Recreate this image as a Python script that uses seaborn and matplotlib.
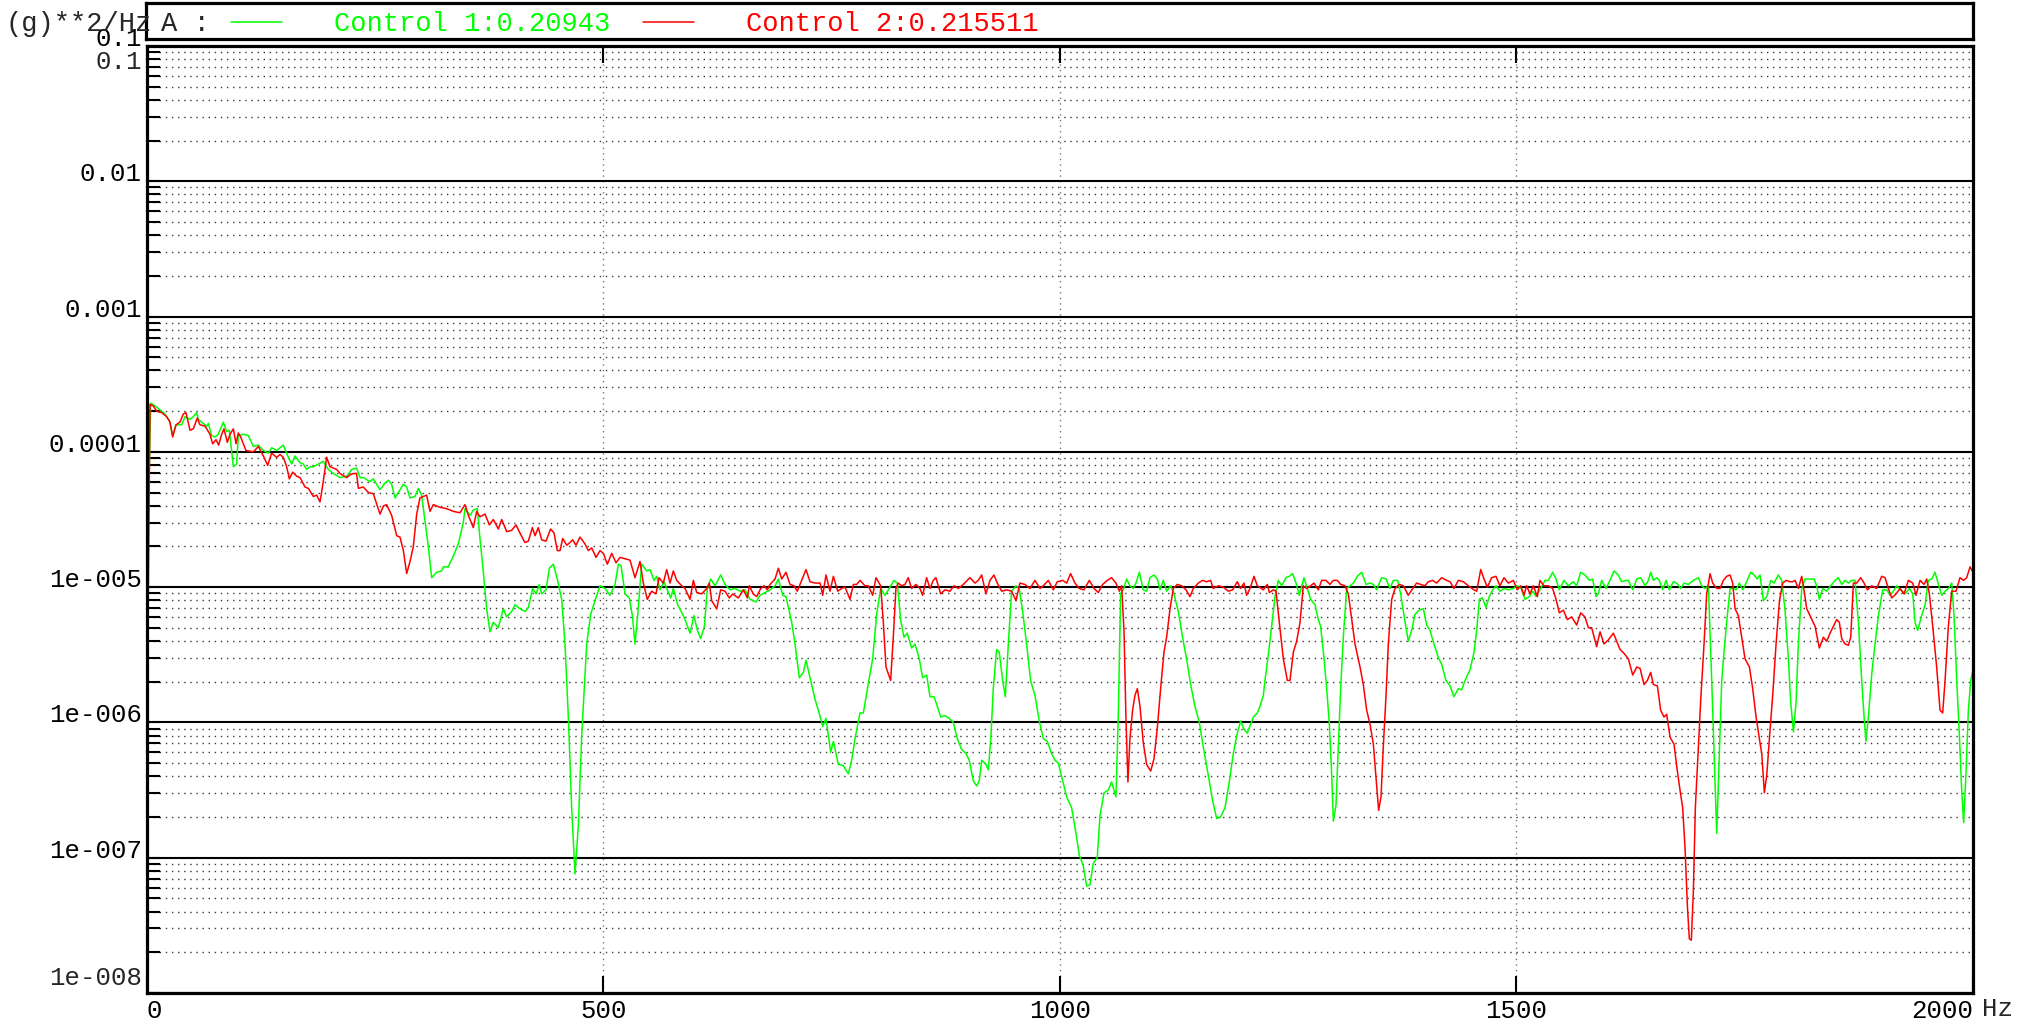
import numpy as np
import matplotlib
matplotlib.use("Agg")
import matplotlib.pyplot as plt
import matplotlib.ticker as mticker
import seaborn as sns

# PSD readings, log10(g**2/Hz) against frequency (Hz)
green_freq = [
    0.0, 4.0, 8.8, 14.2, 19.7, 24.5, 28.1, 31.8, 38.0, 41.6,
    47.1, 50.7, 54.4, 56.2, 59.9, 65.4, 67.2, 70.8, 74.5, 78.1,
    83.6, 87.3, 90.2, 94.6, 98.2, 100.0, 105.5, 111.0, 116.5, 122.0,
    127.4, 132.9, 136.5, 142.0, 149.3, 154.8, 158.5, 162.1, 167.6, 171.2,
    174.9, 178.5, 182.2, 187.7, 193.1, 198.6, 204.1, 211.4, 218.7, 224.2,
    229.6, 233.3, 236.9, 244.2, 247.9, 255.2, 260.7, 264.3, 268.0, 271.6,
    275.3, 280.8, 284.4, 288.1, 293.5, 297.2, 300.8, 304.5, 308.1, 311.8,
    317.3, 322.8, 324.6, 330.0, 335.5, 341.0, 346.5, 348.3, 353.8, 357.4,
    361.8, 364.7, 368.4, 372.0, 375.7, 379.3, 384.8, 390.3, 393.9, 399.4,
    403.1, 408.5, 414.0, 417.7, 422.4, 426.1, 429.7, 432.3, 437.0, 440.7,
    445.1, 449.4, 454.2, 457.8, 461.5, 465.1, 468.8, 472.4, 476.1, 481.6,
    486.0, 490.7, 496.2, 501.7, 507.1, 512.6, 516.3, 519.2, 523.6, 528.3,
    531.6, 534.5, 537.4, 541.8, 547.3, 550.9, 555.3, 558.2, 561.9, 566.3,
    569.2, 573.6, 576.5, 581.2, 586.7, 590.4, 594.8, 599.1, 602.8, 606.4,
    610.5, 613.7, 617.4, 622.1, 628.3, 633.1, 638.6, 644.0, 649.5, 655.0,
    660.5, 667.0, 671.4, 676.9, 682.4, 687.9, 691.5, 696.3, 699.9, 706.1,
    709.8, 714.5, 718.9, 721.8, 726.2, 731.7, 735.3, 740.1, 743.7, 748.8,
    751.8, 757.2, 762.7, 768.2, 771.8, 775.5, 780.9, 784.6, 790.1, 794.8,
    799.2, 803.6, 808.3, 812.0, 818.1, 821.8, 825.4, 829.1, 832.7, 837.5,
    841.1, 845.9, 849.5, 853.9, 857.6, 862.0, 865.6, 869.3, 874.0, 878.7,
    883.1, 887.5, 892.3, 897.0, 900.6, 905.0, 908.7, 911.6, 914.2, 918.9,
    921.5, 924.4, 926.9, 930.6, 933.5, 937.2, 940.1, 943.4, 947.0, 951.8,
    955.4, 959.1, 963.4, 967.8, 972.6, 977.3, 981.7, 986.1, 990.8, 994.5,
    998.1, 1002.9, 1007.3, 1012.7, 1017.5, 1021.1, 1025.5, 1029.2, 1032.8, 1036.5,
    1040.8, 1043.8, 1048.2, 1052.9, 1056.5, 1061.3, 1063.8, 1066.4, 1069.3, 1073.0,
    1076.6, 1080.3, 1083.2, 1086.9, 1091.2, 1094.9, 1098.5, 1102.9, 1106.6, 1109.5,
    1113.1, 1116.8, 1121.2, 1124.8, 1129.6, 1135.0, 1139.4, 1143.1, 1147.8, 1152.6,
    1156.9, 1162.4, 1167.2, 1171.6, 1175.9, 1180.7, 1185.4, 1189.8, 1193.5, 1197.8,
    1201.5, 1205.1, 1211.8, 1216.1, 1219.1, 1222.7, 1224.5, 1228.2, 1231.8, 1235.5,
    1239.1, 1242.8, 1247.5, 1251.2, 1254.8, 1258.5, 1262.1, 1267.2, 1270.9, 1274.5,
    1279.3, 1282.9, 1285.5, 1289.2, 1292.1, 1295.0, 1297.6, 1299.4, 1302.3, 1304.9,
    1307.4, 1310.3, 1314.0, 1317.6, 1321.3, 1325.7, 1330.4, 1335.2, 1339.5, 1343.2,
    1346.8, 1352.3, 1357.1, 1361.4, 1365.1, 1369.8, 1373.1, 1376.8, 1381.5, 1385.2,
    1388.8, 1393.6, 1398.0, 1401.6, 1405.3, 1409.6, 1414.4, 1418.0, 1422.8, 1427.2,
    1431.5, 1436.3, 1439.9, 1443.6, 1449.1, 1453.5, 1456.4, 1459.3, 1462.6, 1466.6,
    1470.2, 1473.9, 1477.5, 1481.9, 1486.3, 1491.1, 1496.5, 1500.2, 1504.6, 1509.3,
    1514.1, 1517.7, 1521.4, 1525.7, 1531.2, 1534.9, 1539.6, 1543.3, 1546.9, 1552.0,
    1556.8, 1562.2, 1565.9, 1570.3, 1575.0, 1579.8, 1583.4, 1587.1, 1589.6, 1593.3,
    1598.0, 1602.4, 1606.8, 1611.5, 1615.2, 1619.9, 1622.5, 1627.3, 1631.7, 1636.0,
    1640.8, 1644.4, 1647.0, 1649.9, 1653.6, 1656.5, 1660.1, 1663.8, 1667.4, 1671.8,
    1675.5, 1679.8, 1683.5, 1688.2, 1693.7, 1699.2, 1702.9, 1706.5, 1710.2, 1713.8,
    1716.4, 1719.3, 1722.2, 1724.8, 1727.3, 1730.2, 1733.9, 1737.5, 1740.5, 1744.1,
    1747.8, 1752.1, 1756.5, 1760.2, 1763.8, 1766.7, 1770.4, 1774.0, 1778.4, 1782.1,
    1786.8, 1790.5, 1794.1, 1797.8, 1800.3, 1803.3, 1806.2, 1808.7, 1812.4, 1816.0,
    1821.5, 1825.9, 1828.8, 1831.7, 1835.4, 1839.8, 1844.1, 1848.9, 1852.5, 1856.2,
    1859.8, 1863.5, 1867.1, 1870.8, 1874.5, 1878.1, 1880.7, 1882.8, 1885.4, 1889.1,
    1892.7, 1896.4, 1901.1, 1905.5, 1909.1, 1912.8, 1916.4, 1920.8, 1925.6, 1930.3,
    1934.0, 1936.5, 1939.4, 1943.8, 1947.5, 1951.1, 1954.8, 1958.4, 1962.1, 1965.7,
    1969.4, 1973.0, 1976.7, 1979.2, 1982.2, 1985.1, 1987.6, 1989.8, 1992.4, 1994.9,
    1997.5, 2000.0,
]
green_log = [
    -4.90, -3.64, -3.66, -3.69, -3.72, -3.77, -3.88, -3.80, -3.80, -3.74,
    -3.76, -3.74, -3.71, -3.76, -3.78, -3.81, -3.79, -3.88, -3.89, -3.87,
    -3.78, -3.85, -3.84, -4.11, -4.09, -3.88, -3.87, -3.88, -3.96, -3.95,
    -3.99, -4.01, -3.97, -3.99, -3.95, -4.04, -4.09, -4.03, -4.08, -4.09,
    -4.13, -4.11, -4.11, -4.09, -4.07, -4.13, -4.16, -4.19, -4.18, -4.13,
    -4.12, -4.19, -4.19, -4.22, -4.20, -4.28, -4.23, -4.21, -4.24, -4.34,
    -4.30, -4.24, -4.26, -4.34, -4.33, -4.27, -4.32, -4.51, -4.70, -4.93,
    -4.89, -4.88, -4.85, -4.85, -4.77, -4.68, -4.52, -4.42, -4.47, -4.43,
    -4.42, -4.64, -4.89, -5.16, -5.33, -5.26, -5.30, -5.16, -5.22, -5.18,
    -5.13, -5.16, -5.18, -5.15, -5.01, -5.05, -4.98, -5.05, -5.02, -4.86,
    -4.83, -4.94, -5.09, -5.42, -5.96, -6.63, -7.12, -6.77, -6.10, -5.42,
    -5.20, -5.10, -4.99, -5.01, -5.06, -4.98, -4.83, -4.84, -5.05, -5.08,
    -5.21, -5.42, -5.21, -4.83, -4.88, -4.87, -4.95, -4.92, -5.02, -4.96,
    -5.01, -5.08, -5.01, -5.13, -5.20, -5.26, -5.34, -5.21, -5.32, -5.38,
    -5.29, -5.01, -4.94, -4.99, -4.91, -4.98, -5.02, -5.01, -5.03, -5.02,
    -5.09, -5.11, -5.06, -5.04, -5.02, -4.99, -4.94, -5.06, -5.07, -5.26,
    -5.42, -5.67, -5.63, -5.54, -5.67, -5.83, -5.91, -6.03, -5.97, -6.22,
    -6.14, -6.31, -6.32, -6.38, -6.28, -6.12, -5.93, -5.93, -5.71, -5.53,
    -5.20, -5.01, -5.06, -5.02, -4.95, -4.97, -5.24, -5.37, -5.34, -5.45,
    -5.42, -5.53, -5.67, -5.65, -5.81, -5.81, -5.88, -5.96, -5.95, -5.97,
    -6.00, -6.12, -6.20, -6.23, -6.28, -6.43, -6.47, -6.43, -6.28, -6.31,
    -6.35, -6.10, -5.75, -5.46, -5.48, -5.69, -5.81, -5.42, -5.03, -4.99,
    -5.01, -5.18, -5.42, -5.69, -5.80, -5.99, -6.12, -6.14, -6.23, -6.28,
    -6.30, -6.43, -6.55, -6.63, -6.82, -6.98, -7.06, -7.21, -7.20, -7.04,
    -7.00, -6.69, -6.52, -6.50, -6.44, -6.55, -5.96, -5.05, -5.02, -4.94,
    -4.99, -5.01, -4.97, -4.89, -5.02, -5.03, -4.93, -4.91, -4.94, -5.02,
    -4.95, -5.03, -4.99, -5.05, -5.18, -5.40, -5.56, -5.72, -5.88, -6.00,
    -6.18, -6.39, -6.58, -6.71, -6.70, -6.63, -6.44, -6.23, -6.10, -5.99,
    -6.05, -6.08, -5.96, -5.93, -5.88, -5.80, -5.69, -5.50, -5.29, -5.07,
    -4.95, -4.99, -4.93, -4.92, -4.90, -4.97, -5.06, -4.93, -5.01, -5.09,
    -5.13, -5.24, -5.29, -5.53, -5.75, -6.01, -6.39, -6.73, -6.61, -6.18,
    -5.75, -5.37, -5.01, -4.99, -4.97, -4.92, -4.89, -4.98, -4.97, -4.98,
    -5.02, -4.93, -4.94, -5.01, -4.95, -4.95, -5.05, -5.21, -5.40, -5.32,
    -5.20, -5.17, -5.16, -5.28, -5.32, -5.42, -5.52, -5.57, -5.69, -5.73,
    -5.81, -5.75, -5.76, -5.69, -5.61, -5.48, -5.32, -5.09, -5.08, -5.15,
    -5.07, -5.02, -4.99, -5.03, -5.01, -5.02, -5.01, -4.99, -5.00, -5.09,
    -5.07, -5.03, -5.07, -5.02, -4.95, -4.95, -4.89, -4.94, -5.02, -4.95,
    -4.99, -4.96, -4.99, -4.89, -4.91, -4.95, -4.94, -5.07, -5.05, -4.95,
    -5.01, -4.95, -4.88, -4.91, -4.96, -4.95, -4.95, -5.02, -4.94, -4.93,
    -4.99, -4.95, -4.89, -4.95, -4.93, -4.95, -5.02, -4.95, -5.02, -4.96,
    -4.97, -5.01, -4.97, -4.98, -4.95, -4.93, -4.99, -5.01, -4.99, -5.69,
    -6.23, -6.82, -6.23, -5.69, -5.48, -5.26, -5.01, -5.01, -5.02, -4.97,
    -5.02, -4.96, -4.89, -4.91, -4.94, -4.91, -5.10, -5.07, -4.95, -4.97,
    -4.91, -4.95, -5.17, -5.53, -5.85, -6.07, -5.85, -5.42, -5.01, -4.94,
    -4.94, -4.94, -4.99, -5.09, -5.01, -5.03, -4.99, -4.95, -4.93, -4.98,
    -4.95, -4.97, -4.95, -4.95, -5.26, -5.69, -5.96, -6.14, -5.96, -5.64,
    -5.42, -5.21, -5.02, -5.02, -5.06, -5.03, -4.99, -5.02, -5.05, -5.01,
    -5.05, -5.26, -5.32, -5.21, -5.13, -4.95, -4.94, -4.89, -4.98, -5.06,
    -5.03, -5.01, -4.97, -5.21, -5.69, -6.10, -6.50, -6.74, -6.36, -5.91,
    -5.69, -5.61,
]

red_freq = [
    0.0, 3.3, 6.9, 10.6, 16.1, 21.5, 25.2, 28.1, 31.8, 36.1,
    39.8, 42.7, 47.1, 50.7, 55.1, 58.0, 63.5, 69.0, 71.9, 75.6,
    78.5, 81.8, 84.3, 88.0, 90.9, 94.6, 97.5, 100.0, 102.6, 108.4,
    116.5, 122.0, 127.4, 132.2, 136.5, 142.0, 145.7, 149.3, 153.0, 155.9,
    159.5, 163.9, 167.6, 173.1, 176.7, 182.2, 185.8, 189.5, 192.4, 196.8,
    200.4, 204.1, 207.7, 211.4, 218.7, 222.4, 226.0, 229.6, 231.5, 236.9,
    242.4, 247.9, 255.2, 258.9, 262.5, 268.0, 273.5, 277.1, 280.8, 284.4,
    288.1, 291.7, 295.4, 299.0, 302.7, 306.3, 310.0, 313.6, 320.9, 328.2,
    335.5, 342.8, 348.3, 352.0, 357.4, 361.1, 364.7, 370.2, 375.0, 379.3,
    384.8, 388.5, 394.0, 399.4, 404.2, 408.5, 414.0, 417.7, 422.1, 425.0,
    428.6, 432.3, 437.0, 442.1, 445.8, 449.4, 452.4, 455.3, 459.7, 463.3,
    466.2, 469.9, 474.3, 479.7, 483.4, 487.1, 491.8, 496.2, 499.8, 504.2,
    509.0, 513.7, 518.1, 523.6, 529.0, 534.5, 540.0, 543.6, 548.0, 552.8,
    557.5, 560.8, 565.5, 569.2, 572.9, 576.5, 580.2, 585.6, 589.3, 594.8,
    598.4, 602.1, 607.5, 613.0, 615.9, 618.5, 624.0, 628.3, 633.1, 637.8,
    641.5, 647.7, 653.2, 657.6, 659.7, 664.1, 667.8, 672.2, 675.8, 679.5,
    682.4, 687.9, 691.5, 695.2, 699.9, 704.3, 708.7, 712.3, 717.1, 721.8,
    726.2, 731.7, 737.2, 740.1, 743.7, 748.1, 751.8, 756.5, 760.9, 764.5,
    770.0, 773.7, 777.3, 781.0, 786.4, 790.1, 794.8, 798.5, 803.6, 806.5,
    809.4, 811.9, 814.5, 817.4, 820.3, 822.9, 826.5, 830.2, 833.8, 837.5,
    842.2, 846.6, 849.5, 853.9, 857.6, 861.2, 864.1, 869.3, 874.0, 879.5,
    883.9, 888.6, 894.1, 898.5, 901.4, 906.9, 910.5, 914.2, 918.9, 923.3,
    927.7, 931.3, 936.1, 941.5, 947.0, 951.8, 956.1, 961.6, 967.1, 972.6,
    978.1, 981.7, 987.2, 992.7, 997.0, 1002.9, 1007.3, 1011.6, 1016.4, 1021.1,
    1026.2, 1032.1, 1037.2, 1041.9, 1046.7, 1051.8, 1056.5, 1061.3, 1065.0, 1067.5,
    1070.1, 1072.2, 1074.4, 1076.6, 1079.5, 1082.1, 1084.7, 1087.6, 1091.2, 1094.9,
    1099.3, 1102.9, 1106.6, 1110.2, 1113.9, 1116.8, 1120.5, 1124.1, 1128.5, 1133.2,
    1138.0, 1142.4, 1146.0, 1151.5, 1156.2, 1160.6, 1165.0, 1167.9, 1173.4, 1178.9,
    1184.3, 1189.1, 1194.2, 1197.8, 1201.5, 1204.4, 1208.1, 1212.5, 1216.1, 1222.7,
    1227.1, 1229.3, 1233.7, 1236.6, 1240.2, 1244.6, 1249.0, 1251.9, 1255.6, 1259.2,
    1262.9, 1266.5, 1270.2, 1274.5, 1278.2, 1282.9, 1286.6, 1291.3, 1295.7, 1299.4,
    1303.8, 1307.4, 1312.2, 1315.8, 1319.5, 1323.1, 1328.6, 1332.2, 1335.9, 1339.5,
    1343.2, 1346.8, 1349.0, 1351.6, 1354.1, 1357.1, 1359.6, 1363.3, 1366.9, 1371.7,
    1376.0, 1381.5, 1386.3, 1390.6, 1395.0, 1399.8, 1403.4, 1408.2, 1412.5, 1418.0,
    1423.5, 1427.2, 1431.5, 1436.3, 1441.8, 1447.2, 1453.5, 1456.4, 1460.8, 1464.4,
    1468.1, 1472.8, 1477.5, 1481.9, 1486.3, 1491.1, 1496.5, 1500.9, 1504.6, 1508.2,
    1511.1, 1514.8, 1518.4, 1522.8, 1525.7, 1530.1, 1534.9, 1539.6, 1543.3, 1546.9,
    1551.3, 1555.7, 1560.4, 1565.9, 1570.3, 1575.0, 1578.7, 1582.3, 1587.8, 1591.5,
    1595.8, 1600.6, 1606.1, 1609.7, 1613.4, 1617.8, 1622.5, 1627.3, 1631.7, 1635.3,
    1639.7, 1643.3, 1647.0, 1649.9, 1654.3, 1657.9, 1661.6, 1664.5, 1668.2, 1672.5,
    1676.2, 1679.1, 1682.0, 1684.6, 1687.2, 1689.3, 1691.5, 1693.7, 1695.9, 1698.8,
    1701.8, 1705.4, 1708.3, 1712.0, 1714.9, 1719.3, 1722.9, 1726.6, 1730.2, 1733.9,
    1736.8, 1739.4, 1743.0, 1746.7, 1750.3, 1755.1, 1758.7, 1762.4, 1766.0, 1768.6,
    1771.5, 1774.1, 1777.0, 1780.6, 1784.3, 1788.0, 1791.6, 1795.2, 1799.6, 1802.5,
    1805.1, 1808.7, 1812.4, 1814.9, 1817.9, 1822.2, 1827.0, 1831.7, 1836.1, 1839.8,
    1843.4, 1847.1, 1850.7, 1853.6, 1856.2, 1859.8, 1863.5, 1866.1, 1869.0, 1872.6,
    1877.0, 1880.7, 1884.3, 1889.1, 1894.5, 1900.0, 1903.7, 1907.3, 1911.0, 1915.7,
    1920.1, 1924.5, 1929.2, 1934.0, 1937.6, 1942.0, 1946.4, 1949.3, 1952.2, 1955.9,
    1960.2, 1963.9, 1966.8, 1969.4, 1973.0, 1976.7, 1981.4, 1985.8, 1989.5, 1993.1,
    1996.8, 2000.0,
]
red_log = [
    -6.10, -3.65, -3.66, -3.70, -3.71, -3.74, -3.78, -3.89, -3.80, -3.78,
    -3.72, -3.71, -3.84, -3.83, -3.75, -3.80, -3.81, -3.87, -3.94, -3.91,
    -3.95, -3.87, -3.83, -3.93, -3.87, -3.83, -3.94, -3.86, -3.89, -3.99,
    -4.00, -3.96, -4.03, -4.10, -4.01, -4.04, -4.02, -4.04, -4.11, -4.20,
    -4.15, -4.18, -4.19, -4.26, -4.27, -4.33, -4.32, -4.37, -4.25, -4.04,
    -4.11, -4.12, -4.13, -4.16, -4.19, -4.17, -4.16, -4.16, -4.27, -4.26,
    -4.30, -4.31, -4.46, -4.40, -4.39, -4.47, -4.62, -4.63, -4.73, -4.90,
    -4.81, -4.70, -4.46, -4.34, -4.33, -4.32, -4.44, -4.39, -4.41, -4.42,
    -4.44, -4.45, -4.39, -4.47, -4.56, -4.44, -4.48, -4.46, -4.54, -4.50,
    -4.57, -4.50, -4.59, -4.58, -4.54, -4.60, -4.67, -4.66, -4.56, -4.62,
    -4.56, -4.65, -4.66, -4.57, -4.60, -4.73, -4.73, -4.64, -4.69, -4.67,
    -4.65, -4.69, -4.63, -4.68, -4.73, -4.71, -4.78, -4.73, -4.75, -4.83,
    -4.75, -4.82, -4.78, -4.79, -4.80, -4.93, -4.81, -4.97, -5.09, -5.03,
    -5.05, -4.93, -4.97, -4.87, -4.97, -4.88, -4.95, -4.99, -5.01, -5.09,
    -4.95, -5.04, -5.05, -5.01, -4.97, -5.10, -5.16, -5.02, -5.03, -5.08,
    -5.05, -5.08, -5.02, -5.08, -4.99, -5.05, -5.07, -5.01, -4.99, -5.02,
    -4.98, -4.94, -4.86, -4.94, -4.89, -4.98, -4.99, -5.03, -4.95, -4.87,
    -4.96, -4.97, -4.97, -5.06, -4.91, -5.03, -4.92, -5.03, -5.01, -5.00,
    -5.09, -4.98, -4.98, -4.95, -4.99, -4.99, -5.06, -4.93, -4.99, -5.26,
    -5.59, -5.64, -5.69, -5.37, -5.01, -4.97, -4.99, -4.98, -4.93, -5.01,
    -4.98, -5.01, -5.06, -4.93, -5.01, -4.95, -4.93, -5.05, -5.02, -5.03,
    -4.99, -5.01, -4.98, -4.95, -4.93, -4.97, -4.95, -4.91, -5.05, -4.95,
    -4.91, -4.97, -5.03, -5.02, -5.03, -5.10, -4.97, -4.98, -5.01, -4.95,
    -5.01, -4.99, -4.95, -5.02, -4.96, -4.95, -4.97, -4.90, -4.97, -5.01,
    -5.02, -4.95, -5.01, -5.04, -4.98, -4.95, -4.93, -4.97, -5.03, -4.99,
    -5.32, -5.96, -6.44, -6.12, -5.91, -5.80, -5.75, -5.88, -6.15, -6.31,
    -6.36, -6.27, -6.04, -5.75, -5.48, -5.37, -5.16, -5.01, -4.98, -4.99,
    -5.02, -5.07, -5.01, -4.97, -4.95, -4.96, -4.95, -5.01, -4.99, -5.00,
    -5.03, -5.02, -4.96, -5.01, -4.97, -5.06, -5.01, -4.92, -4.99, -5.02,
    -4.98, -5.04, -5.02, -5.03, -5.26, -5.53, -5.69, -5.69, -5.48, -5.40,
    -5.26, -4.99, -5.01, -4.99, -4.97, -5.02, -4.95, -4.95, -4.98, -4.95,
    -4.95, -4.98, -4.99, -5.05, -5.24, -5.42, -5.59, -5.72, -5.91, -6.01,
    -6.16, -6.47, -6.65, -6.55, -6.18, -5.80, -5.42, -5.09, -5.01, -4.98,
    -4.99, -5.06, -5.01, -4.97, -4.98, -4.99, -4.96, -4.95, -4.97, -4.93,
    -4.95, -4.96, -5.01, -4.95, -4.96, -4.99, -5.02, -5.03, -4.87, -4.94,
    -5.00, -4.93, -4.92, -4.99, -4.93, -4.97, -4.95, -5.02, -4.99, -5.06,
    -4.99, -5.05, -4.99, -5.07, -4.95, -4.99, -4.99, -5.01, -5.09, -5.19,
    -5.17, -5.24, -5.22, -5.28, -5.19, -5.22, -5.30, -5.30, -5.44, -5.33,
    -5.42, -5.39, -5.34, -5.40, -5.46, -5.49, -5.53, -5.65, -5.59, -5.60,
    -5.72, -5.69, -5.63, -5.72, -5.73, -5.91, -5.96, -5.94, -6.11, -6.16,
    -6.36, -6.50, -6.63, -6.93, -7.36, -7.60, -7.61, -7.25, -6.63, -6.23,
    -5.83, -5.42, -5.05, -4.90, -4.97, -5.01, -5.01, -4.95, -4.92, -4.91,
    -4.97, -5.16, -5.21, -5.37, -5.53, -5.59, -5.75, -5.96, -6.12, -6.23,
    -6.52, -6.39, -6.12, -5.80, -5.42, -5.10, -4.97, -4.95, -4.96, -4.96,
    -4.95, -5.01, -4.92, -5.02, -5.16, -5.22, -5.29, -5.45, -5.37, -5.40,
    -5.34, -5.29, -5.24, -5.26, -5.38, -5.42, -5.43, -5.37, -4.97, -4.97,
    -4.93, -4.97, -5.02, -4.99, -5.01, -4.92, -4.93, -5.01, -5.08, -5.05,
    -5.01, -5.05, -4.95, -4.97, -5.06, -4.95, -4.98, -4.94, -5.05, -5.29,
    -5.59, -5.91, -5.93, -5.69, -5.29, -5.03, -5.03, -4.93, -4.95, -4.93,
    -4.85, -4.89,
]

series_labels = ["Control 1:0.20943", "Control 2:0.215511"]
series_colors = ["#00ff00", "#ff0000"]

y_ticks = [1e-8, 1e-7, 1e-6, 1e-5, 1e-4, 1e-3, 1e-2, 1e-1]
y_ticklabels = ["", "1e-007", "1e-006", "1e-005", "0.0001", "0.001", "0.01", "0.1"]
x_ticks = [0, 500, 1000, 1500, 2000]
x_ticklabels = ["0", "500", "1000", "1500", "2000"]

assert len(green_freq) == len(green_log)
assert len(red_freq) == len(red_log)

sns.set_style("white")
plt.rcParams["font.family"] = ["Liberation Mono", "DejaVu Sans Mono"]

W, H = 2031, 1026
fig = plt.figure(figsize=(W / 100, H / 100), dpi=100)
ax = fig.add_axes([147 / W, 1 - 993 / H, (1973 - 147) / W, (993 - 46) / H])

sns.lineplot(x=green_freq, y=10 ** np.array(green_log), color=series_colors[0],
             linewidth=1.1, estimator=None, sort=False, legend=False, ax=ax)
sns.lineplot(x=red_freq, y=10 ** np.array(red_log), color=series_colors[1],
             linewidth=1.1, estimator=None, sort=False, legend=False, ax=ax)
green_line, red_line = ax.lines[0], ax.lines[1]

ax.set_yscale("log")
ax.set_xlim(0, 2000)
ax.set_ylim(1e-8, 0.1)
ax.set_xlabel("")
ax.set_ylabel("")

ax.set_yticks(y_ticks)
ax.set_yticklabels(y_ticklabels)
ax.yaxis.set_minor_locator(mticker.LogLocator(base=10, subs=np.arange(2, 10), numticks=20))
ax.yaxis.set_minor_formatter(mticker.NullFormatter())
ax.set_xticks(x_ticks)
ax.set_xticklabels(x_ticklabels)

ax.grid(which="major", axis="y", color="black", linewidth=1.5, linestyle="-")
ax.grid(which="minor", axis="y", color="#3a3a3a", linewidth=1.0, linestyle=(0, (1, 3.4)))
ax.grid(which="major", axis="x", color="#777777", linewidth=1.0, linestyle=(0, (1, 3)))

ax.tick_params(axis="y", which="both", direction="in", length=9.5, width=1.5,
               left=True, right=False, pad=3.6, labelsize=18.5, colors="black")
ax.tick_params(axis="x", which="major", direction="in", length=12, width=1.5,
               bottom=True, top=True, pad=4, labelsize=18.5, colors="black")

for lbl in ax.get_yticklabels():
    lbl.set_verticalalignment("baseline")
xl = ax.get_xticklabels()
xl[0].set_horizontalalignment("left")
xl[-1].set_horizontalalignment("right")

for s in ax.spines.values():
    s.set_linewidth(2.3)
    s.set_color("black")

# bottom decade label sits a little above the frame, plus the repeated top label
ax.annotate("1e-008", xy=(0, 1e-8), xycoords=("axes fraction", "data"),
            xytext=(-3.6, 5.8), textcoords="offset points",
            ha="right", va="baseline", fontsize=18.5)
ax.annotate("0.1", xy=(0, 0.068), xycoords=("axes fraction", "data"),
            xytext=(-3.6, 0), textcoords="offset points",
            ha="right", va="baseline", fontsize=18.5)
fig.text(1982 / W, 1 - 1009 / H, "Hz", ha="left", va="center", fontsize=18.5)

# legend strip above the plot
lax = fig.add_axes([146 / W, 1 - 39 / H, (1973 - 146) / W, 36 / H])
lax.set_xticks([])
lax.set_yticks([])
lax.set_facecolor("white")
for s in lax.spines.values():
    s.set_linewidth(2.3)
    s.set_color("black")

fig.text(6 / W, 1 - 24 / H, "(g)**2/Hz", ha="left", va="center", fontsize=19.5)
fig.text(161 / W, 1 - 24 / H, "A :", ha="left", va="center", fontsize=19.5)
fig.legend(handles=[green_line, red_line], labels=series_labels,
           loc="center left", bbox_to_anchor=(231 / W, 1 - 24 / H),
           ncol=2, frameon=False, borderpad=0, borderaxespad=0,
           handlelength=1.9, handletextpad=1.9, columnspacing=1.2,
           labelcolor="linecolor", fontsize=19.5)

fig.savefig("out.png", dpi=100)
